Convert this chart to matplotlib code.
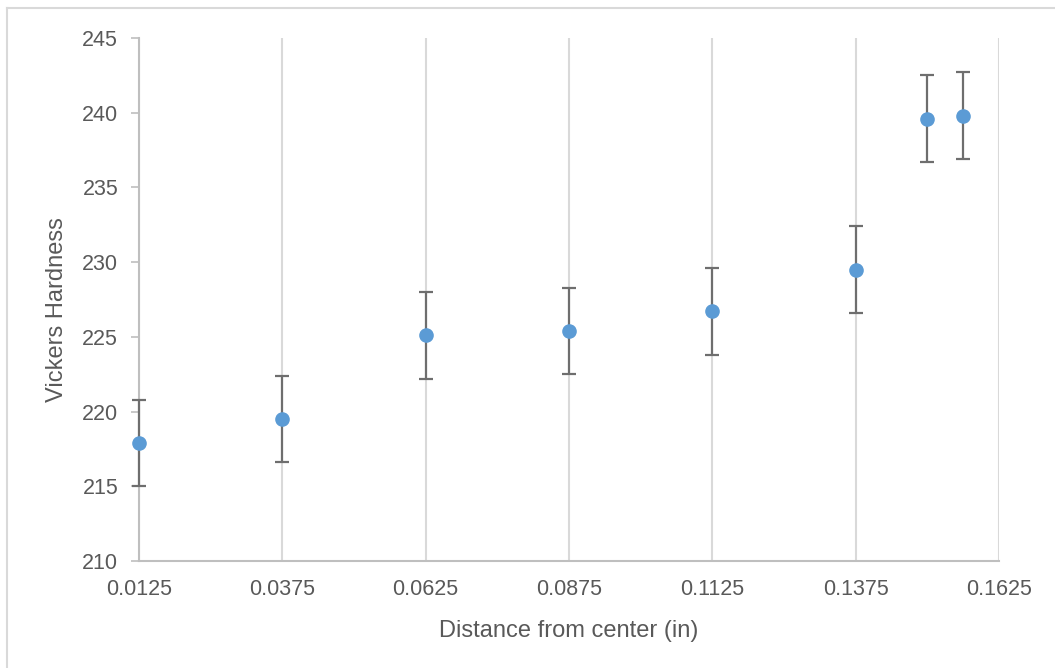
import matplotlib
matplotlib.use("Agg")
import matplotlib.pyplot as plt
from matplotlib.lines import Line2D

# Data
distance = [0.0125, 0.0375, 0.0625, 0.0875, 0.1125, 0.1375, 0.15, 0.15625]
hardness = [217.9, 219.5, 225.1, 225.4, 226.7, 229.5, 239.6, 239.8]
hardness_err = [2.9, 2.9, 2.9, 2.9, 2.9, 2.9, 2.9, 2.9]
x_ticks = [0.0125, 0.0375, 0.0625, 0.0875, 0.1125, 0.1375, 0.1625]
x_tick_labels = ["0.0125", "0.0375", "0.0625", "0.0875", "0.1125", "0.1375", "0.1625"]
y_ticks = [210, 215, 220, 225, 230, 235, 240, 245]

plt.rcParams['font.family'] = ['Liberation Sans', 'DejaVu Sans']

W, H = 1055, 668
fig = plt.figure(figsize=(W / 100, H / 100), dpi=100)
left, right, top, bottom = 139, 999, 38, 561
ax = fig.add_axes([left / W, 1 - bottom / H, (right - left) / W, (bottom - top) / H])

txt = '#595959'
cont = ax.errorbar(distance, hardness, yerr=hardness_err, fmt='o', color='#5B9BD5',
                   markersize=9.5, ecolor='#6E6E6E', elinewidth=1.6, capsize=4.8,
                   capthick=1.6, zorder=3)
for art in cont.get_children():
    art.set_clip_on(False)

ax.set_xlim(0.0125, 0.1625)
ax.set_ylim(210, 245)
ax.set_xticks(x_ticks)
ax.set_xticklabels(x_tick_labels)
ax.set_yticks(y_ticks)

ax.grid(axis='x', color='#D9D9D9', linewidth=1.5)
ax.grid(axis='y', visible=False)
ax.set_axisbelow(True)

for s in ['top', 'right']:
    ax.spines[s].set_visible(False)
for s in ['left', 'bottom']:
    ax.spines[s].set_color('#BFBFBF')
    ax.spines[s].set_linewidth(1.5)

ax.tick_params(axis='y', direction='out', length=6, width=1.2, color='#BFBFBF',
               labelsize=15.5, labelcolor=txt, pad=9)
ax.tick_params(axis='x', length=0, labelsize=15.5, labelcolor=txt, pad=13)

ax.set_xlabel('Distance from center (in)', fontsize=17, color=txt)
ax.set_ylabel('Vickers Hardness', fontsize=17, color=txt)
ax.xaxis.set_label_coords(0.5, (bottom - 620) / (bottom - top))
ax.yaxis.set_label_coords((68 - left) / (right - left), 0.48)

# chart frame (partially cropped in reference)
fig.add_artist(Line2D([7 / W, 7 / W], [0, 1 - 8 / H], transform=fig.transFigure,
                      color='#D9D9D9', linewidth=1.5))
fig.add_artist(Line2D([7 / W, 1], [1 - 8 / H, 1 - 8 / H], transform=fig.transFigure,
                      color='#D9D9D9', linewidth=1.5))

fig.savefig('out.png', dpi=100)
